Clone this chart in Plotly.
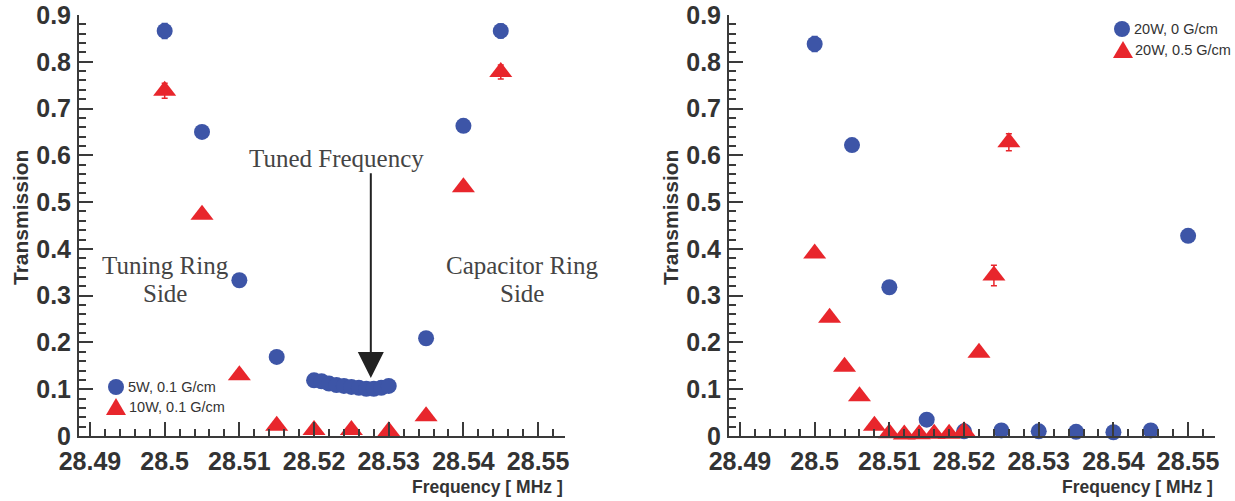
import plotly.graph_objects as go

# ---------------- data ----------------
# Left panel
l_blue_x = [28.500, 28.505, 28.510, 28.515,
            28.520, 28.521, 28.522, 28.523, 28.524, 28.525, 28.526, 28.527, 28.528, 28.529, 28.530,
            28.535, 28.540, 28.545]
l_blue_y = [0.866, 0.650, 0.333, 0.169,
            0.119, 0.117, 0.112, 0.109, 0.107, 0.105, 0.103, 0.101, 0.101, 0.103, 0.107,
            0.209, 0.663, 0.866]
l_blue_err = [0.016, 0.006, 0.005, 0.004,
              0.003, 0.003, 0.003, 0.003, 0.003, 0.003, 0.003, 0.003, 0.003, 0.003, 0.003,
              0.004, 0.007, 0.015]

l_red_x = [28.500, 28.505, 28.510, 28.515, 28.520, 28.525, 28.530, 28.535, 28.540, 28.545]
l_red_y = [0.738, 0.473, 0.130, 0.022, 0.013, 0.013, 0.010, 0.042, 0.532, 0.778]
l_red_err = [0.016, 0.007, 0.005, 0.003, 0.003, 0.003, 0.003, 0.003, 0.007, 0.015]

# Right panel
r_blue_x = [28.500, 28.505, 28.510, 28.515, 28.520, 28.525, 28.530, 28.535, 28.540, 28.545, 28.550]
r_blue_y = [0.838, 0.622, 0.318, 0.035, 0.010, 0.012, 0.010, 0.009, 0.008, 0.012, 0.428]
r_blue_err = [0.016, 0.006, 0.005, 0.003, 0.003, 0.003, 0.003, 0.003, 0.003, 0.003, 0.006]

r_red_x = [28.500, 28.502, 28.504, 28.506, 28.508, 28.510, 28.512,
           28.514, 28.516, 28.518, 28.520, 28.522, 28.524, 28.526]
r_red_y = [0.390, 0.253, 0.148, 0.085, 0.022, 0.006, 0.003,
           0.004, 0.005, 0.005, 0.010, 0.178, 0.343, 0.628]
r_red_err = [0.006, 0.005, 0.004, 0.004, 0.003, 0.003, 0.003,
             0.003, 0.003, 0.003, 0.003, 0.005, 0.022, 0.018]

x_ticks = [28.49, 28.50, 28.51, 28.52, 28.53, 28.54, 28.55]
x_tick_text = ["28.49", "28.5", "28.51", "28.52", "28.53", "28.54", "28.55"]
y_ticks = [0, 0.1, 0.2, 0.3, 0.4, 0.5, 0.6, 0.7, 0.8, 0.9]
y_tick_text = ["0", "0.1", "0.2", "0.3", "0.4", "0.5", "0.6", "0.7", "0.8", "0.9"]

series_names = ["5W, 0.1 G/cm", "10W, 0.1 G/cm", "20W, 0 G/cm", "20W, 0.5 G/cm"]

tuned_freq = 28.5276
arrow_top, arrow_tip = 0.565, 0.124

# ---------------- style ----------------
BLUE = "#3D55A7"
RED = "#E8262C"
AX = "#3a3a3a"
TXT = "#333333"
SERIF_C = "#444444"
SANS = "Liberation Sans, Arial, Helvetica, sans-serif"
SERIF = "Liberation Serif, Times New Roman, serif"

W, H = 1235, 501


def px(xp):
    return xp / W


def py(yp):
    return 1 - yp / H


left_dom = [px(79), px(565)]
right_dom = [px(729), px(1215)]
y_dom = [py(436), py(15)]
x_range = [28.48853, 28.5536]
y_range = [0, 0.9]

fig = go.Figure()


def add_series(x, y, err, name, color, symbol, size, xa, ya):
    fig.add_trace(go.Scatter(
        x=x, y=y, mode="markers", name=name, showlegend=False,
        marker=dict(color=color, symbol=symbol, size=size, line=dict(width=0)),
        error_y=dict(type="data", array=err, color=color, thickness=1.5, width=3),
        xaxis=xa, yaxis=ya, cliponaxis=False,
    ))


add_series(l_blue_x, l_blue_y, l_blue_err, series_names[0], BLUE, "circle", 16, "x", "y")
add_series(l_red_x, l_red_y, l_red_err, series_names[1], RED, "triangle-up", 20, "x", "y")
add_series(r_blue_x, r_blue_y, r_blue_err, series_names[2], BLUE, "circle", 16, "x2", "y2")
add_series(r_red_x, r_red_y, r_red_err, series_names[3], RED, "triangle-up", 20, "x2", "y2")

axis_common = dict(
    showline=True, linecolor=AX, linewidth=2, mirror=False,
    showgrid=False, zeroline=False, automargin=False,
    ticks="inside", ticklen=14, tickwidth=2, tickcolor=AX,
    tickfont=dict(family=SANS, size=25, color=TXT, weight="bold"),
)

xaxis_common = dict(axis_common, range=x_range, tickvals=x_ticks, ticktext=x_tick_text,
                    ticklabelstandoff=2,
                    minor=dict(ticks="inside", ticklen=7, tickwidth=2, tickcolor=AX, dtick=0.002, tick0=28.49))
yaxis_common = dict(axis_common, range=y_range, tickvals=y_ticks, ticktext=y_tick_text,
                    ticklabelstandoff=1,
                    minor=dict(ticks="inside", ticklen=7, tickwidth=2, tickcolor=AX, dtick=0.02, tick0=0))

fig.update_layout(
    width=W, height=H,
    margin=dict(l=0, r=0, t=0, b=0, autoexpand=False),
    paper_bgcolor="white", plot_bgcolor="white",
    showlegend=False,
    xaxis=dict(xaxis_common, domain=left_dom, anchor="y"),
    yaxis=dict(yaxis_common, domain=y_dom, anchor="x"),
    xaxis2=dict(xaxis_common, domain=right_dom, anchor="y2"),
    yaxis2=dict(yaxis_common, domain=y_dom, anchor="x2"),
)

annotations = []
shapes = []

# axis titles
for xc in (21, 671):
    annotations.append(dict(text="Transmission", xref="paper", yref="paper", x=px(xc), y=py(218),
                            textangle=-90, showarrow=False,
                            font=dict(family=SANS, size=21, color=TXT, weight="bold"),
                            xanchor="center", yanchor="middle"))
for xr in (565, 1215):
    annotations.append(dict(text="Frequency [ MHz ]", xref="paper", yref="paper", x=px(xr), y=py(487),
                            showarrow=False, font=dict(family=SANS, size=17.5, color=TXT, weight="bold"),
                            xanchor="right", yanchor="middle"))

# serif labels
serif_labels = [("Tuned Frequency", 336, 159),
                ("Tuning Ring", 165, 265), ("Side", 165, 293),
                ("Capacitor Ring", 522, 265), ("Side", 522, 293)]
for t, xc, yc in serif_labels:
    annotations.append(dict(text=t, xref="paper", yref="paper", x=px(xc), y=py(yc),
                            showarrow=False, font=dict(family=SERIF, size=25, color=SERIF_C),
                            xanchor="center", yanchor="middle"))

# arrow
annotations.append(dict(text="", x=tuned_freq, y=arrow_tip, xref="x", yref="y",
                        ax=tuned_freq, ay=arrow_top, axref="x", ayref="y",
                        showarrow=True, arrowhead=2, arrowsize=2.6, arrowwidth=2, arrowcolor="#222222",
                        standoff=0))

# custom legends
legend_items = [
    (series_names[0], "circle", BLUE, 116, 387, 126),
    (series_names[1], "triangle", RED, 116, 407, 127),
    (series_names[2], "circle", BLUE, 1122, 29, 1132),
    (series_names[3], "triangle", RED, 1123, 50, 1133),
]
for name, sym, col, cx, cy, tx in legend_items:
    if sym == "circle":
        r = 8
        shapes.append(dict(type="circle", xref="paper", yref="paper",
                           x0=px(cx - r), x1=px(cx + r), y0=py(cy + r), y1=py(cy - r),
                           fillcolor=col, line=dict(width=0)))
    else:
        path = "M {:.5f},{:.5f} L {:.5f},{:.5f} L {:.5f},{:.5f} Z".format(
            px(cx - 10), py(cy + 8), px(cx + 10), py(cy + 8), px(cx), py(cy - 9))
        shapes.append(dict(type="path", xref="paper", yref="paper", path=path,
                           fillcolor=col, line=dict(width=0)))
    annotations.append(dict(text=name, xref="paper", yref="paper", x=px(tx), y=py(cy),
                            showarrow=False, font=dict(family=SANS, size=14.5, color=TXT),
                            xanchor="left", yanchor="middle"))

fig.update_layout(annotations=annotations, shapes=shapes)

fig.write_html("out.html")
